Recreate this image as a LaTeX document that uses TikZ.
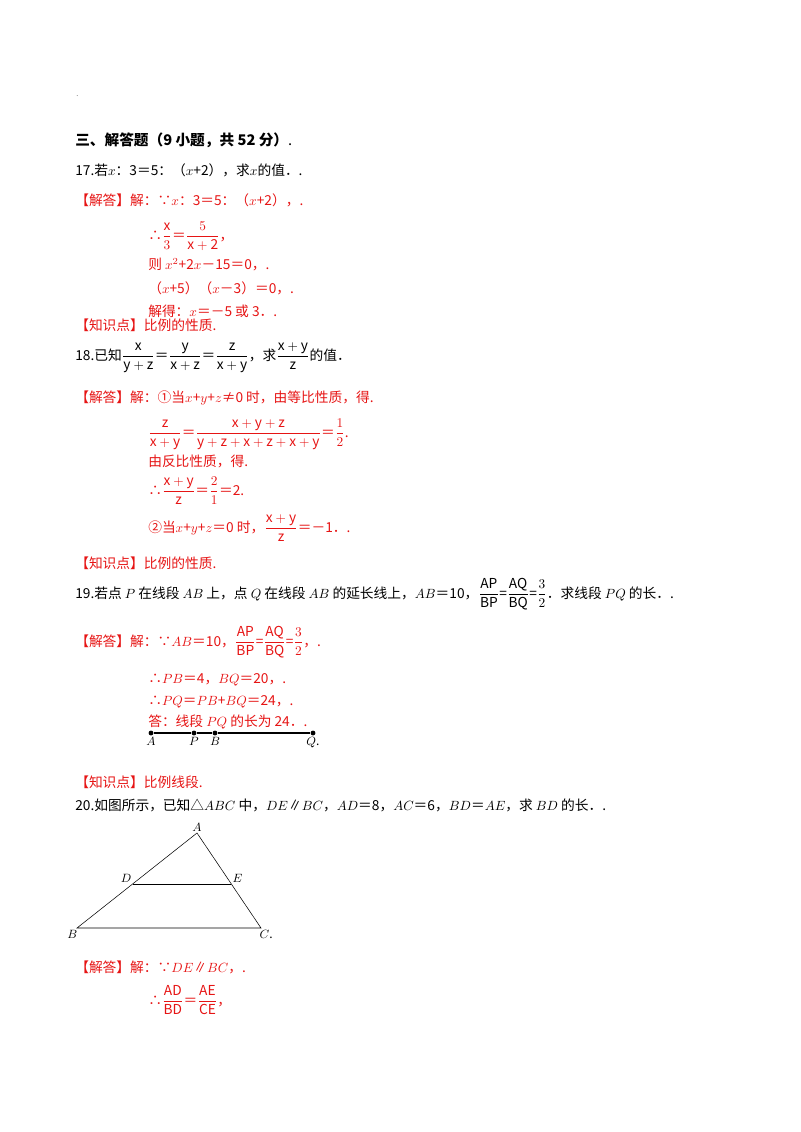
\documentclass[tikz,border=0pt]{standalone}
\usepackage{fontspec}
\setmainfont{Noto Sans CJK SC}
\usepackage{amsmath}
\definecolor{ans}{RGB}{230,20,20}
\begin{document}
\begin{tikzpicture}[x=0.75pt,y=-0.75pt,
  t/.style={anchor=base west,inner sep=0pt,font=\fontsize{10.3pt}{12pt}\selectfont},
  r/.style={t,text=ans},
  dot/.style={circle,fill=black,inner sep=1.3pt},
  lab/.style={font=\fontsize{9pt}{10pt}\selectfont,inner sep=1pt}]
\useasboundingbox (0,0) rectangle (800,1132);
\node[t,font=\tiny] (d0) at (76,96) {.};
\node[t,font=\fontsize{11pt}{13pt}\selectfont\bfseries] (h) at (75,145) {三、解答题（9 小题，共 52 分）\textnormal{.}};
\node[t] (q17) at (75,175) {17.若$x$：3＝5：（$x$+2），求$x$的值．.};
\node[r] (a17) at (75,205) {【解答】解：∵$x$：3＝5：（$x$+2），.};
\node[r] (a17b) at (148,240) {∴$\dfrac{\mathrm{x}}{3}$＝$\dfrac{5}{\mathrm{x+2}}$，};
\node[r] (a17c) at (148,269) {则 $x^2$+2$x$－15＝0，.};
\node[r] (a17d) at (148,293) {（$x$+5）（$x$－3）＝0，.};
\node[r] (a17e) at (148,316) {解得：$x$＝－5 或 3．.};
\node[r] (k17) at (75,330) {【知识点】比例的性质.};
\node[t] (q18) at (75,360) {18.已知$\dfrac{\mathrm{x}}{\mathrm{y+z}}$＝$\dfrac{\mathrm{y}}{\mathrm{x+z}}$＝$\dfrac{\mathrm{z}}{\mathrm{x+y}}$，求$\dfrac{\mathrm{x+y}}{\mathrm{z}}$的值．};
\node[r] (a18) at (75,402) {【解答】解：①当$x$+$y$+$z$≠0 时，由等比性质，得.};
\node[r] (a18b) at (148,437) {$\dfrac{\mathrm{z}}{\mathrm{x+y}}$＝$\dfrac{\mathrm{x+y+z}}{\mathrm{y+z+x+z+x+y}}$＝$\dfrac{1}{2}$.};
\node[r] (a18c) at (148,466) {由反比性质，得.};
\node[r] (a18d) at (148,495) {∴$\dfrac{\mathrm{x+y}}{\mathrm{z}}$＝$\dfrac{2}{1}$＝2.};
\node[r] (a18e) at (148,532) {②当$x$+$y$+$z$＝0 时，$\dfrac{\mathrm{x+y}}{\mathrm{z}}$＝－1．.};
\node[r] (k18) at (75,568) {【知识点】比例的性质.};
\node[t] (q19) at (75,598) {19.若点 $P$ 在线段 $AB$ 上，点 $Q$ 在线段 $AB$ 的延长线上，$AB$＝10，$\dfrac{\mathrm{AP}}{\mathrm{BP}}$=$\dfrac{\mathrm{AQ}}{\mathrm{BQ}}$=$\dfrac{3}{2}$．求线段 $PQ$ 的长．.};
\node[r] (a19) at (75,646) {【解答】解：∵$AB$＝10，$\dfrac{\mathrm{AP}}{\mathrm{BP}}$=$\dfrac{\mathrm{AQ}}{\mathrm{BQ}}$=$\dfrac{3}{2}$，.};
\node[r] (a19b) at (148,683) {∴$PB$＝4，$BQ$＝20，.};
\node[r] (a19c) at (148,705) {∴$PQ$＝$PB$+$BQ$＝24，.};
\node[r] (a19d) at (148,726) {答：线段 $PQ$ 的长为 24．.};
\node[dot] (A) at (151,733) {};
\node[dot] (P) at (194,733) {};
\node[dot] (B) at (215,733) {};
\node[dot] (Q) at (313,733) {};
\draw[thick] (A) -- (P) -- (B) -- (Q);
\node[lab,below=2pt] (lA) at (A) {$A$};
\node[lab,below=2pt] (lP) at (P) {$P$};
\node[lab,below=2pt] (lB) at (B) {$B$};
\node[lab,below=2pt] (lQ) at (Q) {$Q$.};
\node[r] (k19) at (75,787) {【知识点】比例线段.};
\node[t] (q20) at (75,810) {20.如图所示，已知△$ABC$ 中，$DE$∥$BC$，$AD$＝8，$AC$＝6，$BD$＝$AE$，求 $BD$ 的长．.};
\coordinate (TA) at (197,833);
\coordinate (TB) at (77,928);
\coordinate (TC) at (261,928);
\coordinate (TD) at (133,884);
\coordinate (TE) at (231,884);
\draw (TA) -- (TB) -- (TC) -- cycle;
\draw (TD) -- (TE);
\node[lab,above] (nA) at (TA) {$A$};
\node[lab,left] (nB) at (79,934) {$B$};
\node[lab,right] (nC) at (258,934) {$C$.};
\node[lab,above left] (nD) at (TD) {$D$};
\node[lab,above right] (nE) at (TE) {$E$};
\node[r] (a20) at (75,972) {【解答】解：∵$DE$∥$BC$，.};
\node[r] (a20b) at (148,1005) {∴$\dfrac{\mathrm{AD}}{\mathrm{BD}}$＝$\dfrac{\mathrm{AE}}{\mathrm{CE}}$，};
\end{tikzpicture}
\end{document}
